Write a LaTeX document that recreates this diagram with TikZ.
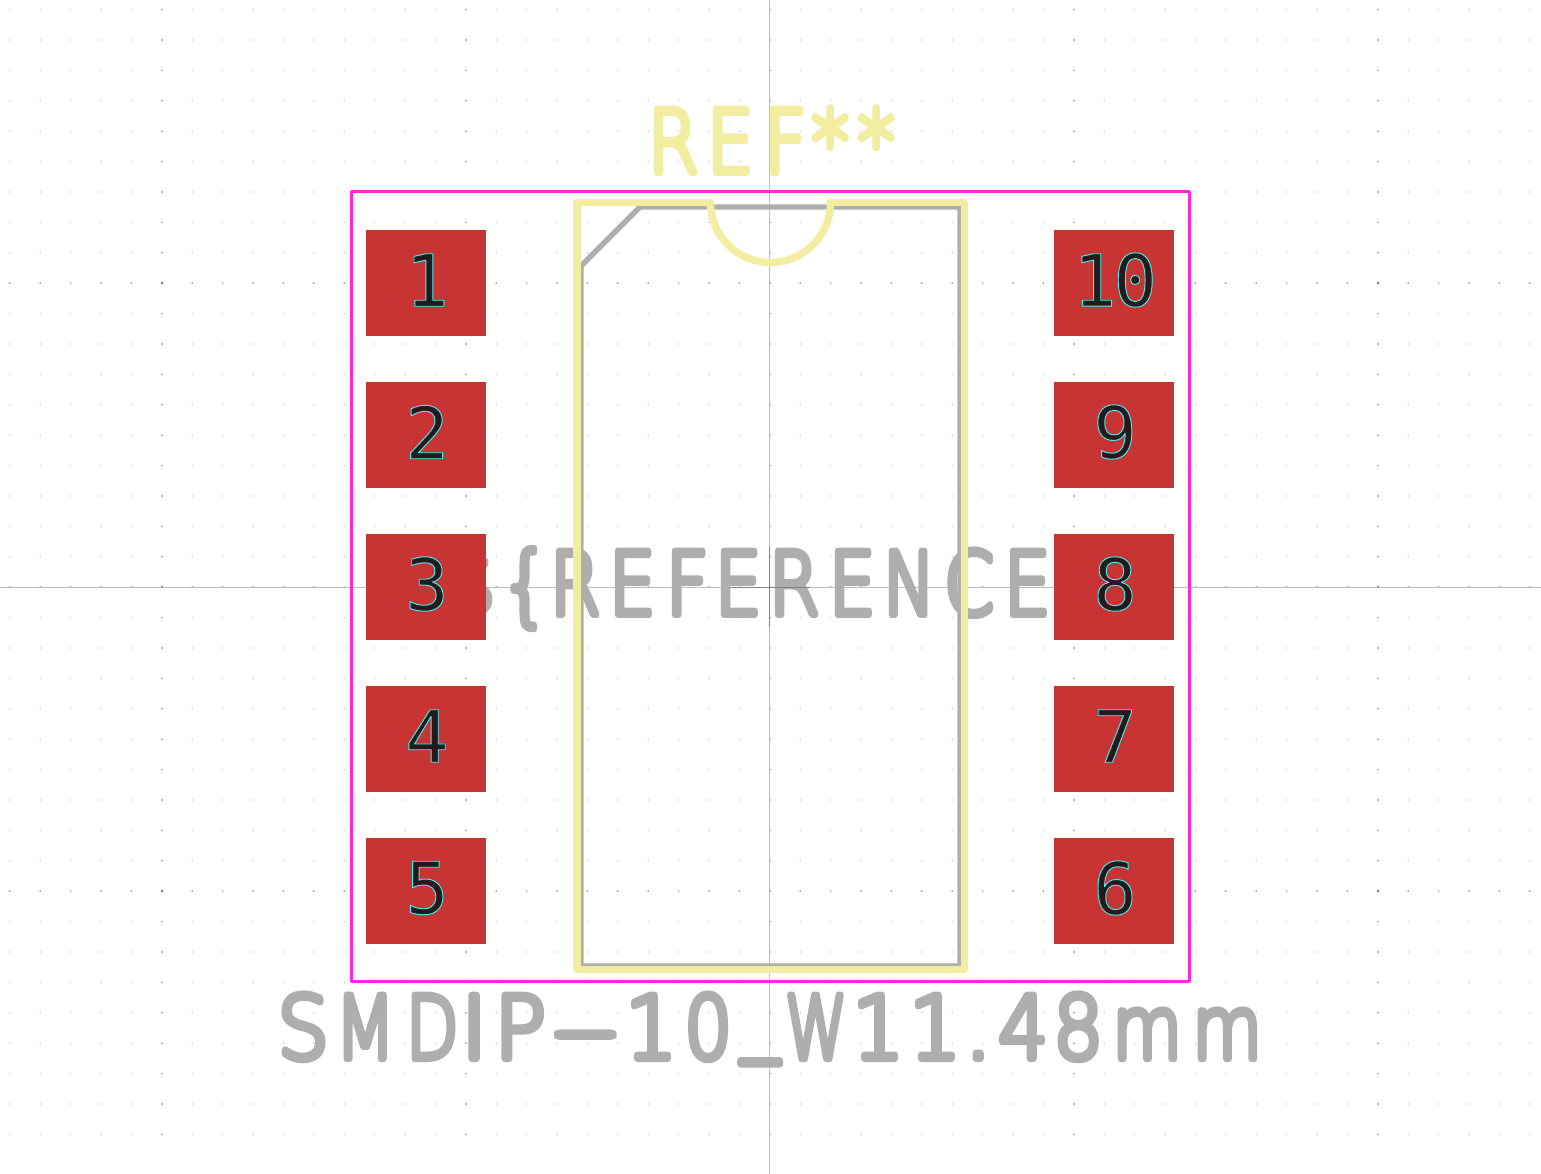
\documentclass[tikz,border=0pt]{standalone}
\usepackage{fontspec}
\usepackage{graphicx}
\setmainfont{DejaVu Sans Mono}
\newfontfamily\strokefont[FakeBold=8]{DejaVu Sans ExtraLight}
\newfontfamily\padfont[FakeBold=1.3]{DejaVu Sans Mono}
\definecolor{silk}{HTML}{F2EDA1}
\definecolor{fab}{HTML}{AEAEAE}
\definecolor{court}{HTML}{FF26E2}
\definecolor{copper}{HTML}{C83434}
\definecolor{axisgray}{HTML}{BEBEBE}
\definecolor{crossgray}{HTML}{848484}
\definecolor{padtext}{HTML}{231A1C}
% one glyph: horizontal scale, character, distance to the centre of the next glyph
\newcommand{\gl}[3]{\makebox[0pt][c]{\scalebox{#1}[1]{#2}}\kern #3pt\relax}
\newcommand{\padlabel}[1]{{\padfont\fontsize{72}{72}\selectfont\special{pdf:code 0.25 0.95 0.95 RG}#1}}
\tikzset{
  padbox/.style={fill=copper,draw=none,minimum width=120pt,minimum height=106pt,inner sep=0pt,text=padtext},
  bigtext/.style={anchor=base west,inner sep=0pt,font=\strokefont\fontsize{87}{87}\selectfont},
  fabline/.style={draw=fab,line width=5.4pt,line join=round},
  silkline/.style={draw=silk,line width=7.4pt,line join=round,line cap=round},
  axisline/.style={draw=axisgray,line width=1pt},
  crossline/.style={draw=crossgray,line width=1pt}
}
\begin{document}
\begin{tikzpicture}[x=1pt,y=-1pt,line join=round]
\useasboundingbox (0,0) rectangle (1541,1174);
\fill[white] (0,0) rectangle (1541,1174);
% grid
\fill[black!22] \foreach \i in {0,...,50}{\foreach \j in {0,...,37}{
  ({9.2+30.4*\i},{9+30.4*\j}) rectangle ++(1.2,1.2)}};
\fill[black!33] \foreach \c in {161.2,465.2,769.2,1073.2,1377.2}{\foreach \j in {0,...,37}{
  (\c,{9+30.4*\j}) rectangle ++(2,1.2)}};
\fill[black!33] \foreach \r in {282,586,890}{\foreach \i in {0,...,50}{
  ({9.2+30.4*\i},\r) rectangle ++(1.2,2)}};
\fill[black!50] \foreach \c in {161.2,465.2,1073.2,1377.2}{\foreach \r in {282,586,890}{
  (\c,\r) rectangle ++(2,2)}};
% axes
\coordinate (axT) at (769.5,0); \coordinate (axB) at (769.5,1174);
\coordinate (axL) at (0,587.5); \coordinate (axR) at (1541,587.5);
\draw[axisline] (axT) -- (axB);
\draw[axisline] (axL) -- (axR);
% fabrication value and reference text
\node[bigtext,text=fab] (fabref) at (468,614.5) {\gl{1}{\$}{57}\gl{.9}{\{}{50}\gl{.84}{R}{57}\gl{.85}{E}{55}\gl{.86}{F}{51}\gl{.85}{E}{56}\gl{.84}{R}{58}\gl{.85}{E}{57}\gl{.8}{N}{60}\gl{.82}{C}{58}\gl{.85}{E}{42}\gl{.9}{\}}{0}};
\node[bigtext,text=fab] (value) at (303,1058.5) {\gl{.93}{S}{62}\gl{.8}{M}{67}\gl{.78}{D}{42}\gl{1}{I}{46}\gl{.98}{P}{65}\gl{2.1}{-}{66}\gl{.94}{1}{57}\gl{.86}{0}{52}\gl{.88}{\raisebox{15pt}{\_}}{56}\gl{.72}{W}{62}\gl{.94}{1}{57}\gl{.94}{1}{43}\gl{1}{.}{45}\gl{.9}{4}{55}\gl{.9}{8}{69}\gl{.82}{m}{80}\gl{.82}{m}{0}};
\node[bigtext,text=silk] (ref) at (673,172.5) {\gl{.84}{R}{57}\gl{.85}{E}{55}\gl{.86}{F}{45}\gl{.85}{*}{46}\gl{.85}{*}{0}};
% fabrication outline
\coordinate (f1) at (581,266); \coordinate (f2) at (640,207); \coordinate (f3) at (960,207);
\coordinate (f4) at (960,966); \coordinate (f5) at (581,966);
\draw[fabline] (f1) -- (f2) -- (f3) -- (f4) -- (f5) -- cycle;
% silkscreen
\coordinate (s1) at (710.5,202.5); \coordinate (s2) at (577,202.5); \coordinate (s3) at (577,969.7);
\coordinate (s4) at (964.3,969.7); \coordinate (s5) at (964.3,202.5); \coordinate (s6) at (830.5,202.5);
\draw[silkline] (s1) -- (s2) -- (s3) -- (s4) -- (s5) -- (s6);
\draw[silkline] (s1) arc[start angle=180,end angle=0,radius=60];
% courtyard
\draw[draw=court,line width=3.2pt] (351.3,191.3) rectangle (1189.5,981.3);
% pads
\foreach \n/\px/\py in {1/426/283,2/426/435,3/426/587,4/426/739,5/426/891,9/1114/435,8/1114/587,7/1114/739,6/1114/891}{
  \node[padbox] (pad\n) at (\px,\py) {};
  \node[inner sep=0pt,text=padtext] (lab\n) at ({\px+1},{\py-3}) {\padlabel{\n}};
}
\node[padbox] (pad10) at (1114,283) {};
\node[inner sep=0pt,text=padtext] (lab10) at (1115,280) {\padlabel{1\kern-3pt 0}};
% centre cross
\coordinate (cT) at (769.5,547); \coordinate (cB) at (769.5,627);
\coordinate (cL) at (730,587.5); \coordinate (cR) at (810,587.5);
\draw[crossline] (cT) -- (cB);
\draw[crossline] (cL) -- (cR);
\end{tikzpicture}
\end{document}
